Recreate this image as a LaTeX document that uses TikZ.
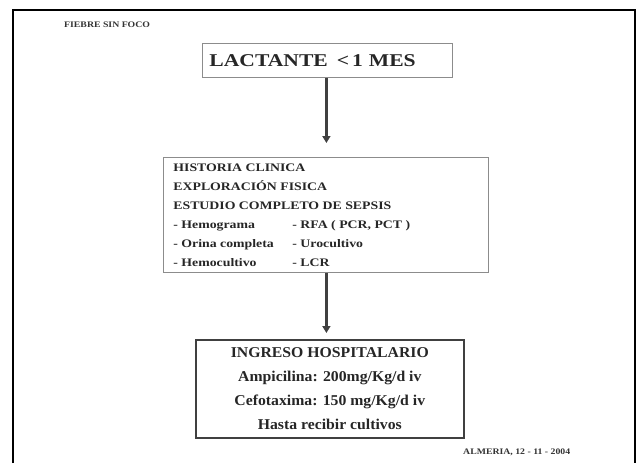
\documentclass[tikz,border=0pt]{standalone}
\usepackage{fontspec}
\setmainfont{Liberation Serif}
\usetikzlibrary{positioning,arrows.meta,calc}

\begin{document}
\begin{tikzpicture}[
  x=1pt, y=-1pt,
  >={Triangle[length=7pt,width=8pt]},
  font=\bfseries,
  frame/.style ={draw=black, line width=1.6pt},
  greybox/.style ={draw=black!45, line width=0.8pt, inner sep=0pt},
  darkbox/.style ={draw=black!75, line width=1.6pt, inner sep=0pt},
  small/.style ={font=\bfseries\addfontfeature{FakeStretch=1.15}\fontsize{8.5}{9}\selectfont,
                 text=black!80, inner sep=0pt},
  arr/.style   ={->, black!75, line width=2.4pt}
]
\useasboundingbox (0,0) rectangle (636,463);

% ---- Page frame (open at the bottom) -----------------------------------------
\draw[frame] (13,463) -- (13,10) -- (635,10) -- (635,463);

% ---- Header and footer -------------------------------------------------------
\node[small, anchor=west] (fiebre) at (64,25) {FIEBRE SIN FOCO};
\node[small, anchor=west] (almeria) at (463,452) {ALMERIA, 12 - 11 - 2004};

% ---- Boxes -------------------------------------------------------------------
\node[greybox, minimum width=250pt, minimum height=34pt, anchor=north west,
      text width=236pt, align=left,
      font=\bfseries\addfontfeature{FakeStretch=1.2}\fontsize{18}{20}\selectfont, text=black!85]
  (lactante) at (202,43) {LACTANTE \,<\,1 MES};

\node[greybox, minimum width=325pt, minimum height=115pt, anchor=north west,
      font=\bfseries\addfontfeature{FakeStretch=1.2}\fontsize{11.5}{19}\selectfont, text=black!85]
  (estudio) at (163,157) {%
  \begin{tabular}{@{\hspace{10pt}}p{119pt}@{}p{196pt}@{}}
    \multicolumn{2}{@{\hspace{10pt}}l}{HISTORIA CLINICA}\\
    \multicolumn{2}{@{\hspace{10pt}}l}{EXPLORACIÓN FISICA}\\
    \multicolumn{2}{@{\hspace{10pt}}l}{ESTUDIO COMPLETO DE SEPSIS}\\
    - Hemograma & - RFA ( PCR, PCT )\\
    - Orina completa & - Urocultivo\\
    - Hemocultivo & - LCR
  \end{tabular}};

\node[darkbox, minimum width=268pt, minimum height=98pt, anchor=north west,
      align=center, font=\bfseries\addfontfeature{FakeStretch=1.05}\fontsize{15}{24}\selectfont, text=black!85]
  (ingreso) at (195,339) {INGRESO HOSPITALARIO\\
    Ampicilina: 200mg/Kg/d iv\\
    Cefotaxima: 150 mg/Kg/d iv\\
    Hasta recibir cultivos};

% ---- Arrows ------------------------------------------------------------------
\coordinate (a1) at ($(lactante.south)+(-1,0)$);
\draw[arr, shorten >=14pt] (a1) -- (a1 |- estudio.north);
\draw[arr, shorten >=6pt] (a1 |- estudio.south) -- (a1 |- ingreso.north);

\end{tikzpicture}
\end{document}
